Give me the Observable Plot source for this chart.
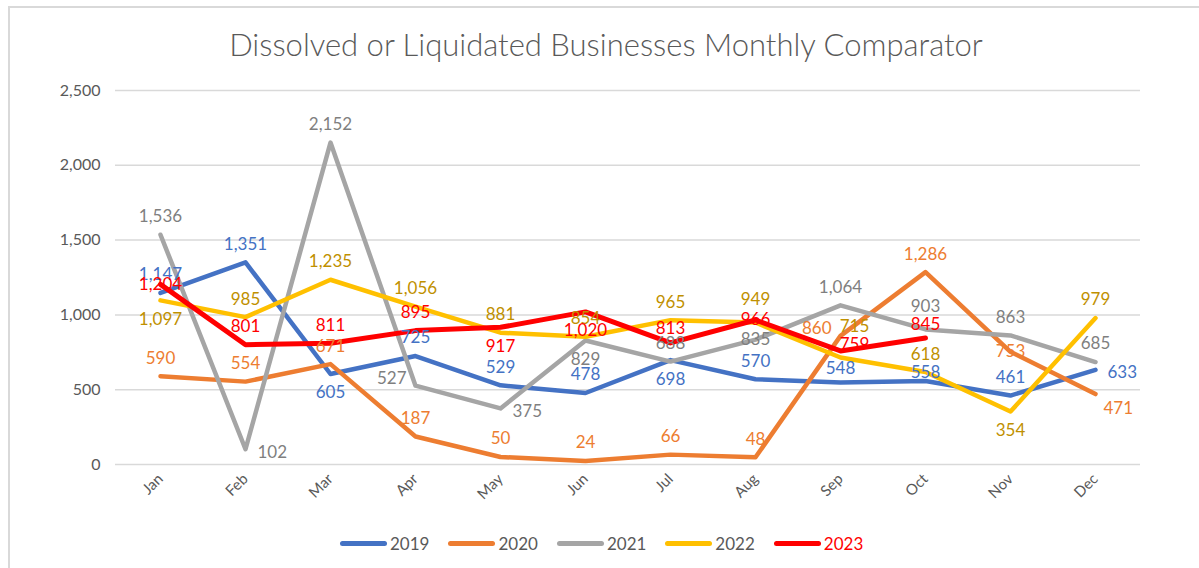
<!DOCTYPE html>
<html>
<head>
<meta charset="utf-8">
<script src="https://cdn.jsdelivr.net/npm/d3@7"></script>
<script src="https://cdn.jsdelivr.net/npm/@observablehq/plot@0.6"></script>
<style>
  html, body { margin: 0; padding: 0; background: #fff; }
  #wrap { position: relative; width: 1199px; height: 568px; overflow: hidden; font-family: Lato, "Liberation Sans", sans-serif; }
  #frame { position: absolute; left: 8px; top: 6px; width: 1300px; height: 700px; border-left: 2px solid #D9D9D9; border-top: 2px solid #D9D9D9; box-sizing: border-box; }
  #title { position: absolute; left: 0; top: 24px; width: 1212px; text-align: center; font-size: 31px; line-height: 40px; font-weight: 300; color: #595959; white-space: nowrap; }
  #chart { position: absolute; left: 0; top: 75px; }
  #legend { position: absolute; left: 340px; top: 533px; display: flex; align-items: center; font-size: 17px; color: #595959; }
  .item { display: flex; align-items: center; margin-right: 19px; }
  .sw { width: 47px; height: 5px; border-radius: 3px; margin-right: 3px; }
</style>
</head>
<body>
<div id="wrap">
  <div id="frame"></div>
  <div id="title">Dissolved or Liquidated Businesses Monthly Comparator</div>
  <div id="chart"></div>
  <div id="legend"></div>
</div>
<script>
const months = ["Jan","Feb","Mar","Apr","May","Jun","Jul","Aug","Sep","Oct","Nov","Dec"];
const years = ["2019","2020","2021","2022","2023"];
const v2019 = [1147,1351,605,725,529,478,698,570,548,558,461,633];
const v2020 = [590,554,671,187,50,24,66,48,860,1286,753,471];
const v2021 = [1536,102,2152,527,375,829,688,835,1064,903,863,685];
const v2022 = [1097,985,1235,1056,881,854,965,949,715,618,354,979];
const v2023 = [1204,801,811,895,917,1020,813,966,759,845];
const yTicks = [0,500,1000,1500,2000,2500];

const series = [v2019, v2020, v2021, v2022, v2023];
const lineColors = ["#4472C4","#ED7D31","#A5A5A5","#FFC000","#FF0000"];
const labelColors = ["#4472C4","#ED7D31","#7F7F7F","#BF9000","#FF0000"];
const lineWidths = [4.5,4.5,4.5,4.5,5];

// label placement (default: above)
const placement = {
  "2019": {Mar:"below", Jul:"below", Dec:"right", Sep:"low", Oct:"lower"},
  "2020": {Sep:"left", Nov:"center", Dec:"belowright"},
  "2021": {Feb:"right", Apr:"left", May:"right", Jun:"below", Aug:"center", Oct:"high"},
  "2022": {Jan:"below", Nov:"below", Sep:"aboveright", Aug:"high"},
  "2023": {Jan:"center", May:"below", Jun:"below", Sep:"centerright", Aug:"center", Oct:"low", Jul:"low"}
};
const offsets = {
  above: {dx:0, dy:-18, anchor:"middle"},
  high: {dx:0, dy:-23, anchor:"middle"},
  low: {dx:0, dy:-14, anchor:"middle"},
  lower: {dx:0, dy:-8, anchor:"middle"},
  aboveright: {dx:14, dy:-31, anchor:"middle"},
  below: {dx:0, dy:19, anchor:"middle"},
  right: {dx:12, dy:3, anchor:"start"},
  left: {dx:-9, dy:-7, anchor:"end"},
  center: {dx:0, dy:0, anchor:"middle"},
  centerright: {dx:14, dy:-6, anchor:"middle"},
  belowright: {dx:8, dy:15, anchor:"start"}
};

const rows = [];
years.forEach((yr, i) => {
  series[i].forEach((v, j) => rows.push({year: yr, month: months[j], value: v, pos: (placement[yr][months[j]] || "above")}));
});

const fmt = d3.format(",");
const marks = [
  Plot.gridY(yTicks, {stroke: "#D9D9D9", strokeOpacity: 1, strokeWidth: 1.5}),
  Plot.axisY(yTicks, {tickSize: 0, tickPadding: 15, tickFormat: fmt, fontSize: 16, fill: "#595959", label: null}),
  Plot.axisX({tickSize: 0, tickPadding: 12, tickRotate: -45, fontSize: 15, fill: "#595959", label: null})
];
years.forEach((yr, i) => {
  marks.push(Plot.line(rows.filter(d => d.year === yr), {x: "month", y: "value", stroke: lineColors[i], strokeWidth: lineWidths[i], strokeLinejoin: "round", strokeLinecap: "round"}));
});
years.forEach((yr, i) => {
  Object.entries(offsets).forEach(([k, o]) => {
    const data = rows.filter(d => d.year === yr && d.pos === k);
    if (data.length) marks.push(Plot.text(data, {x: "month", y: "value", text: d => fmt(d.value), fill: labelColors[i], fontSize: 17, dx: o.dx, dy: o.dy, textAnchor: o.anchor}));
  });
});

const chart = Plot.plot({
  width: 1199, height: 440,
  marginLeft: 115, marginRight: 59, marginTop: 15, marginBottom: 51,
  x: {type: "point", domain: months, padding: 0.5, label: null},
  y: {domain: [0, 2500], label: null},
  style: {fontFamily: "Lato, 'Liberation Sans', sans-serif", color: "#595959", background: "transparent"},
  marks
});
document.getElementById("chart").appendChild(chart);

const legend = document.getElementById("legend");
years.forEach((yr, i) => {
  const it = document.createElement("div");
  it.className = "item";
  const sw = document.createElement("div");
  sw.className = "sw";
  sw.style.background = lineColors[i];
  const tx = document.createElement("span");
  tx.textContent = yr;
  if (yr === "2023") tx.style.color = "#FF0000";
  it.appendChild(sw); it.appendChild(tx);
  legend.appendChild(it);
});
</script>
</body>
</html>
